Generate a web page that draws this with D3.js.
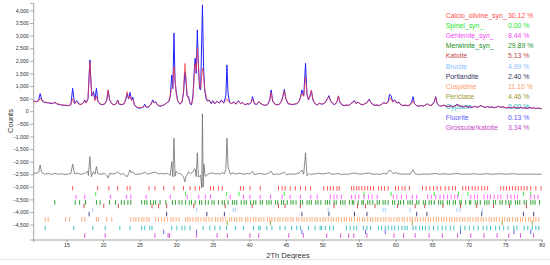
<!DOCTYPE html>
<html><head><meta charset="utf-8">
<script src="https://cdn.jsdelivr.net/npm/d3@7"></script>
<style>html,body{margin:0;padding:0;background:#fff;}svg{display:block;}</style>
</head><body>
<svg id="chart" width="550" height="265"></svg>
<script>
// ---------- DATA ----------
const twoTheta = [10.45,10.7,10.9,11.2,11.4,11.6,11.9,12.3,12.7,13.1,13.4,13.7,14.1,14.5,14.9,15.3,15.6,15.85,16.1,16.4,16.7,17.0,17.3,17.5,17.7,17.95,18.2,18.45,18.7,18.9,19.1,19.3,19.6,19.9,20.2,20.5,20.7,20.9,21.2,21.5,21.8,22.0,22.2,22.6,22.9,23.1,23.3,23.5,23.7,23.9,24.07,24.3,24.6,24.9,25.2,25.5,25.7,25.9,26.2,26.5,26.8,27.0,27.2,27.5,27.8,28.1,28.4,28.7,29.0,29.2,29.4,29.55,29.7,29.85,30.0,30.2,30.5,30.8,31.0,31.2,31.35,31.5,31.7,31.9,32.1,32.3,32.5,32.6,32.75,32.9,33.05,33.2,33.35,33.6,33.75,33.9,34.1,34.3,34.5,34.8,35.0,35.3,35.6,35.9,36.2,36.5,36.8,36.95,37.1,37.3,37.6,37.9,38.2,38.5,38.8,39.1,39.4,39.7,40.0,40.25,40.45,40.7,41.0,41.3,41.6,41.9,42.2,42.5,42.8,43.0,43.2,43.5,43.8,44.1,44.4,44.6,44.8,45.0,45.3,45.6,45.9,46.2,46.5,46.8,47.0,47.2,47.45,47.7,47.9,48.1,48.3,48.5,48.7,49.0,49.3,49.6,49.9,50.2,50.5,50.7,50.9,51.1,51.4,51.7,52.0,52.2,52.4,52.7,53.0,53.3,53.6,53.9,54.2,54.4,54.6,54.9,55.2,55.5,55.8,56.1,56.4,56.6,56.9,57.2,57.5,57.8,58.1,58.4,58.7,59.0,59.2,59.4,59.6,59.9,60.2,60.45,60.7,61.0,61.3,61.6,61.9,62.2,62.4,62.6,62.9,63.2,63.5,63.8,64.1,64.4,64.7,65.0,65.3,65.5,65.7,66.0,66.3,66.6,66.9,67.2,67.5,67.8,68.1,68.4,68.7,69.0,69.3,69.6,69.9,70.2,70.5,70.8,71.1,71.4,71.7,72.0,72.3,72.6,72.9,73.2,73.5,73.8,74.1,74.4,74.7,75.0,75.3,75.6,75.9,76.2,76.5,76.8,77.1,77.4,77.7,78.0,78.3,78.6,78.9,79.2,79.5,79.8,80.0];
const observed = [400,390,380,450,700,480,360,340,320,300,360,290,260,240,230,220,260,910,300,420,290,270,330,450,330,500,2040,600,780,450,910,400,280,260,280,420,830,450,300,250,300,450,280,260,300,450,700,480,750,450,560,250,150,120,130,160,280,160,170,250,450,330,380,230,200,220,260,330,380,600,1440,900,3100,1200,800,420,280,350,700,1570,1200,600,580,300,250,600,1700,2100,1500,3230,1770,900,845,4220,1770,845,500,400,450,300,420,300,400,320,450,320,600,1840,700,350,300,380,280,420,300,350,250,300,280,350,580,300,260,380,300,250,230,260,450,845,400,280,250,270,400,600,865,500,300,280,260,280,300,400,550,845,600,1900,650,450,600,820,450,300,250,320,280,300,400,500,620,420,300,260,380,610,350,250,220,240,230,300,380,420,300,370,280,250,300,340,480,380,260,230,250,220,280,350,300,400,670,620,380,450,320,370,260,220,240,220,230,350,580,300,220,200,230,200,250,300,220,250,380,580,300,220,200,250,200,180,220,180,200,280,230,190,170,210,160,180,150,200,160,180,230,170,150,190,150,170,140,160,200,150,180,140,130,160,130,170,130,120,160,120,140,110,150,120,140,100,130,100,110];
const calculated = [390,385,380,400,520,420,370,350,335,320,330,300,270,250,240,230,250,500,300,380,280,270,320,430,330,520,1960,640,700,420,600,380,290,270,290,420,860,470,300,260,290,430,290,270,310,500,780,500,600,420,480,270,180,150,150,170,220,170,180,250,400,350,340,240,210,230,270,330,390,650,920,1000,1770,1300,700,420,300,360,800,1900,1300,650,500,320,270,500,1500,1900,1600,2500,1900,1000,900,1720,1400,900,600,420,430,320,380,310,390,330,400,330,420,490,400,340,310,350,290,400,300,330,260,300,290,340,480,320,280,370,300,260,240,270,420,750,420,290,260,280,380,560,800,520,320,290,270,290,300,380,520,700,600,1370,700,470,580,840,480,310,260,310,290,300,380,520,580,440,310,270,360,600,370,260,230,250,240,290,350,400,310,350,290,260,290,330,450,380,270,240,250,230,270,330,290,350,520,500,370,400,330,350,270,230,250,230,240,300,420,300,230,210,220,210,240,290,230,250,360,560,320,230,210,240,210,190,210,190,200,260,230,200,180,200,170,180,160,190,170,180,220,180,160,180,160,170,150,160,190,160,170,150,140,150,140,160,140,130,150,130,140,120,140,130,130,110,120,110,110];
const diffTheta = [10.45,10.8,11.2,11.4,11.6,12.0,12.5,13.0,13.4,13.8,14.3,14.8,15.3,15.6,15.85,16.1,16.5,17.0,17.5,17.9,18.0,18.2,18.4,18.7,18.9,19.1,19.3,19.7,20.2,20.5,20.7,20.9,21.4,21.8,22.0,22.3,22.8,23.1,23.3,23.5,23.7,23.9,24.07,24.4,24.9,25.3,25.7,26.1,26.5,26.8,27.2,27.6,28.0,28.4,28.8,29.0,29.2,29.4,29.55,29.7,29.85,30.0,30.3,30.6,31.0,31.2,31.35,31.5,31.7,32.0,32.3,32.5,32.6,32.75,32.9,33.05,33.2,33.35,33.5,33.6,33.7,33.8,33.95,34.1,34.4,34.7,35.0,35.3,35.7,36.0,36.3,36.6,36.8,36.95,37.1,37.4,37.8,38.2,38.5,38.9,39.3,39.7,40.1,40.45,40.7,41.0,41.4,41.8,42.2,42.6,43.0,43.3,43.7,44.1,44.5,44.8,45.1,45.5,46.0,46.4,46.8,47.2,47.45,47.7,47.9,48.2,48.5,48.8,49.2,49.6,50.0,50.5,50.9,51.3,51.7,52.2,52.6,53.0,53.5,54.0,54.4,54.8,55.3,55.8,56.4,56.9,57.4,57.9,58.4,58.8,59.2,59.4,59.7,60.0,60.5,61.0,61.5,62.0,62.4,62.7,63.2,63.8,64.3,64.8,65.5,66.0,66.6,67.2,67.8,68.4,69.0,69.6,70.2,70.8,71.4,72.0,72.6,73.2,73.8,74.4,75.0,75.6,76.2,76.8,77.4,78.0,78.6,79.2,80.0];
const difference = [-2450,-2470,-2420,-2130,-2420,-2500,-2470,-2510,-2460,-2500,-2480,-2510,-2490,-2470,-2100,-2480,-2460,-2500,-2470,-2380,-2550,-1800,-2600,-2400,-2500,-2200,-2480,-2500,-2470,-2550,-2650,-2470,-2490,-2460,-2400,-2500,-2480,-2560,-2600,-2480,-2330,-2450,-2400,-2510,-2490,-2480,-2420,-2490,-2470,-2430,-2420,-2490,-2470,-2490,-2460,-2500,-2550,-2000,-2600,-1070,-2580,-2380,-2480,-2470,-2600,-2800,-2580,-2530,-2400,-2480,-2400,-2280,-2300,-2600,-1650,-2610,-2580,-2540,-3050,-100,-3000,-2100,-2560,-2580,-2480,-2470,-2440,-2490,-2470,-2500,-2430,-2480,-2300,-1070,-2200,-2490,-2450,-2500,-2460,-2480,-2500,-2470,-2490,-2380,-2510,-2490,-2470,-2490,-2500,-2470,-2380,-2520,-2490,-2500,-2460,-2420,-2520,-2490,-2500,-2480,-2460,-2330,-2500,-1650,-2560,-2470,-2520,-2490,-2480,-2460,-2490,-2470,-2440,-2500,-2490,-2470,-2510,-2490,-2500,-2470,-2450,-2480,-2500,-2470,-2450,-2500,-2490,-2500,-2470,-2490,-2330,-2380,-2480,-2440,-2480,-2500,-2490,-2500,-2320,-2490,-2510,-2490,-2500,-2490,-2470,-2500,-2480,-2500,-2490,-2470,-2500,-2490,-2500,-2480,-2500,-2490,-2480,-2500,-2490,-2480,-2500,-2490,-2480,-2500,-2490,-2500,-2490,-2500,-2500];

const phaseNames = ["Calcio_olivine_syn_","Spinel_syn_","Gehlenite_syn_","Merwinite_syn_","Katoite","Brucite","Portlandite","Cuspidine","Periclase","Gypsum","Fluorite","Grossular/katoite"];
const phasePercents = ["30.12 %","0.00 %","8.44 %","29.89 %","5.13 %","4.99 %","2.40 %","11.10 %","4.46 %","0.00 %","0.13 %","3.34 %"];

const ticksCalcio = [15.85,19.27,20.8,22.0,23.3,23.7,26.3,27.1,28.3,29.7,31.0,31.9,32.6,33.2,34.7,35.1,35.8,36.3,38.8,39.2,40.1,41.5,44.0,44.5,44.9,45.6,46.3,47.0,47.7,48.4,50.2,50.7,51.1,51.5,52.0,52.3,54.0,54.3,54.7,55.0,55.4,55.8,56.2,56.6,57.0,57.7,58.1,58.5,59.0,60.0,60.4,60.9,61.3,61.9,63.7,64.2,64.7,65.2,65.7,66.2,66.8,67.3,67.8,68.2,69.2,69.6,70.0,70.5,70.9,71.3,71.8,72.2,72.6,74.4,74.8,75.2,75.6,76.0,76.4,76.8,77.2,77.6,78.0,78.5,79.2,79.9];
const ticksSpinel = [19.0,31.3,36.9,38.6,44.8,55.7,59.4,65.3,68.6,69.9,77.5,78.5];
const ticksGehlenite = [16.3,17.5,21.0,23.2,23.8,25.9,29.2,31.5,33.1,34.0,34.7,37.4,39.2,40.1,41.5,42.9,44.5,45.6,47.0,48.4,49.3,51.1,51.6,52.0,52.6,54.0,54.5,55.0,55.7,56.3,56.8,57.5,59.7,60.2,60.8,61.5,62.3,62.9,64.4,64.9,65.5,66.1,66.6,67.1,67.6,68.1,68.5,70.3,70.8,71.2,72.1,72.6,73.0,73.5,74.0,74.4,75.3,75.8,76.3,76.7,78.5,79.0,79.5];
const ticksMerwinite = [13.4,16.2,16.8,17.6,19.1,19.6,20.9,21.7,22.5,22.9,23.4,23.8,25.3,25.7,26.0,26.5,26.9,27.2,27.8,28.6,29.5,29.9,30.4,30.8,31.3,31.8,32.1,32.6,33.2,33.5,34.0,34.4,34.9,35.2,35.8,36.3,36.6,37.1,37.7,38.0,38.3,38.9,39.3,39.6,40.2,40.6,40.9,41.5,41.8,42.4,42.7,43.0,43.6,43.9,44.4,44.7,45.2,45.7,46.0,46.4,47.0,47.3,47.9,48.2,48.5,49.1,49.4,49.8,50.4,50.7,51.0,51.6,51.9,52.5,52.8,53.1,53.7,54.1,54.3,54.9,55.4,55.6,56.2,56.5,56.9,57.5,57.8,58.3,58.6,59.0,59.6,59.9,60.4,60.7,61.1,61.7,62.0,62.3,62.9,63.2,63.8,64.1,64.6,64.9,65.3,65.9,66.2,66.5,67.1,67.4,67.9,68.2,68.8,69.0,69.6,70.1,70.3,70.9,71.2,71.6,72.2,72.5,72.8,73.4,73.7,74.3,74.6,75.1,75.5,75.8,76.4,76.7,77.0,77.6,77.9,78.5,78.8,79.1,79.7];
const ticksKatoite = [17.4,20.1,22.1,26.7,27.6,28.7,32.4,36.7,40.4,44.0,44.9,47.0,51.6,54.8,55.9,57.2,60.3,62.7,64.0,66.5,68.9,71.1,73.4,75.6,77.9];
const ticksBrucite = [18.6,32.8,37.8,38.1,50.8,58.3,58.6,62.0,68.4,68.8,71.9];
const ticksPortlandite = [18.1,28.7,34.2,36.6,47.2,50.9,54.4,56.1,62.9,64.3,71.8,77.5,78.9];
const ticksCuspidine = [12.1,12.5,14.9,15.4,17.1,17.5,19.1,19.4,20.5,21.2,23.8,24.2,24.5,24.9,25.3,25.6,26.0,26.3,27.2,27.6,28.0,28.4,28.8,29.3,29.6,30.0,30.4,31.3,31.6,31.9,32.3,32.7,33.0,33.4,33.8,34.1,34.5,34.9,35.4,35.7,36.1,36.4,36.8,37.3,37.6,38.0,38.3,38.7,39.0,39.5,39.8,40.2,40.6,40.9,41.3,41.6,42.0,42.5,42.8,43.1,43.5,43.9,44.2,44.6,45.0,45.3,45.7,46.0,46.5,46.8,47.2,47.5,47.9,48.3,48.6,49.0,49.3,49.7,50.1,50.4,50.8,51.2,51.5,51.9,52.2,52.6,53.0,53.3,53.7,54.0,54.4,54.8,55.1,55.5,55.8,56.2,56.6,56.9,57.3,57.6,58.0,58.4,58.7,59.1,59.4,59.8,60.2,60.5,60.9,61.2,61.6,62.0,62.3,62.7,63.0,63.4,63.8,64.1,64.5,64.8,65.2,65.6,65.9,66.3,66.6,67.0,67.4,67.7,68.1,68.4,68.8,69.2,69.5,69.9,70.2,70.6,71.0,71.3,71.7,72.0,72.4,72.8,73.1,73.5,73.8,74.2,74.6,74.9,75.3,75.6,76.0,76.4,76.7,77.1,77.4,77.8,78.2,78.5,78.9,79.2,79.6];
const ticksPericlase = [37.0,42.9,62.3,74.6,78.7];
const ticksGypsum = [12.1,16.0,18.6,20.3,22.3,23.7,25.3,25.7,26.4,26.7,29.4,30.1,30.8,31.2,31.9,33.7,34.6,35.3,36.0,36.9,38.1,39.2,40.6,41.3,41.5,42.4,43.1,44.2,44.9,45.8,46.5,47.0,48.1,49.0,49.7,49.9,50.4,51.0,51.5,53.3,53.8,54.3,54.7,55.6,56.1,56.6,57.7,58.1,58.6,59.0,59.5,59.9,60.4,60.9,61.3,61.6,62.4,62.8,63.3,63.7,64.1,64.6,65.2,65.8,66.4,66.9,67.5,68.0,68.9,69.5,70.1,70.7,71.3,72.0,72.5,73.0,73.7,74.2,74.8,75.4,76.2,76.6,77.6,78.1,78.7,79.2,79.6];
const ticksFluorite = [28.3,32.8,47.2,55.9,58.6,68.9,76.2,78.5];
const ticksGrossular = [17.5,20.3,27.1,28.9,29.1,32.8,35.6,37.0,40.1,41.3,45.4,47.4,50.6,52.5,53.6,54.3,56.1,59.8,61.1,62.7,64.6,66.4,68.5,70.3,72.1,73.9,75.5,77.1,78.9];

const yTickValues = [-4500,-4000,-3500,-3000,-2500,-2000,-1500,-1000,-500,0,500,1000,1500,2000,2500,3000,3500,4000];
const xTickValues = [15,20,25,30,35,40,45,50,55,60,65,70,75,80];

// ---------- STYLE / LAYOUT ----------
const phaseColors = ["#ff4a4a","#1ee81e","#f24af2","#1c8f1c","#c04848","#8cc0ff","#34345e","#ff9a66","#9a9a2e","#2ab4b4","#5a5aff","#c844c8"];
const tickColors  = ["#ff5a5a","#44ee44","#ff66ff","#2ea02e","#c85050","#a8d0ff","#4a4a80","#ffa878","#a8a83a","#48c4c4","#6a6aff","#d858d8"];
const tickRowCenter = [-3060,-3280,-3400,-3620,-3760,-3920,-4080,-4290,-4430,-4630,-4790,-4930];
const tickSets = [ticksCalcio,ticksSpinel,ticksGehlenite,ticksMerwinite,ticksKatoite,ticksBrucite,ticksPortlandite,ticksCuspidine,ticksPericlase,ticksGypsum,ticksFluorite,ticksGrossular];

const svg = d3.select("#chart");
svg.append("rect").attr("width",550).attr("height",265).attr("fill","#fff");

const x = d3.scaleLinear().domain([10.45, 80]).range([33.2, 541.7]);
const y = d3.scaleLinear().domain([-5090, 4300]).range([239.5, 2.9]);

const axisColor = "#8a9090";
const labelFont = "'Liberation Sans', Arial, sans-serif";

// Y axis
const yAxis = d3.axisLeft(y).tickValues(yTickValues).tickSize(3).tickPadding(1.5)
  .tickFormat(d3.format(","));
const gy = svg.append("g").attr("transform", `translate(${x.range()[0]},0)`).call(yAxis);
gy.select(".domain").attr("stroke", axisColor).attr("stroke-width",0.8);
gy.selectAll(".tick line").attr("stroke", axisColor).attr("stroke-width",0.8);
gy.selectAll(".tick text").attr("font-size", 5.2).attr("font-family", labelFont).attr("fill","#333");

// X axis
const xAxis = d3.axisBottom(x).tickValues(xTickValues).tickSize(2.5).tickPadding(1.5).tickFormat(d3.format("d"));
const gx = svg.append("g").attr("transform", `translate(0,${y.range()[0]})`).call(xAxis);
gx.select(".domain").attr("stroke", axisColor).attr("stroke-width",0.8);
gx.selectAll(".tick line").attr("stroke", axisColor).attr("stroke-width",0.8);
gx.selectAll(".tick text").attr("font-size", 5.2).attr("font-family", labelFont).attr("fill","#333");

// Axis titles
svg.append("text").attr("x", 288).attr("y", 257.5).attr("text-anchor","middle")
  .attr("font-size", 7.5).attr("font-family", labelFont).attr("fill","#333").text("2Th Degrees");
svg.append("text").attr("transform","translate(13,121) rotate(-90)").attr("text-anchor","middle")
  .attr("font-size", 7.5).attr("font-family", labelFont).attr("fill","#333").text("Counts");

// Legend (drawn beneath curves)
const lg = svg.append("g");
phaseNames.forEach((n,i)=>{
  const cy = 15 + i*10.2;
  lg.append("text").attr("x",445.7).attr("y",cy+2.6).attr("font-size",6.9).attr("font-family",labelFont)
    .attr("fill",phaseColors[i]).text(n);
  lg.append("text").attr("x",508).attr("y",cy+2.6).attr("font-size",6.9).attr("font-family",labelFont)
    .attr("fill",phaseColors[i]).text(phasePercents[i]);
});

// Reflection tick rows
tickSets.forEach((arr,i)=>{
  const c = tickRowCenter[i];
  svg.append("g").selectAll("line").data(arr).join("line")
    .attr("x1", d=>x(d)).attr("x2", d=>x(d))
    .attr("y1", y(c+90)).attr("y2", y(c-90))
    .attr("stroke", tickColors[i]).attr("stroke-width", 1);
});

// Difference curve
const diffLine = d3.line().x((d,i)=>x(diffTheta[i])).y(d=>y(d));
svg.append("path").datum(difference).attr("d", diffLine).attr("fill","none")
  .attr("stroke","#6e6e6e").attr("stroke-width",0.8);

// Observed & calculated
const obsLine = d3.line().x((d,i)=>x(twoTheta[i])).y(d=>y(d));
svg.append("path").datum(observed).attr("d", obsLine).attr("fill","none")
  .attr("stroke","#2020ff").attr("stroke-width",1);
svg.append("path").datum(calculated).attr("d", obsLine).attr("fill","none")
  .attr("stroke","#ff3a3a").attr("stroke-width",1).attr("stroke-opacity",0.7);

// bottom frame line
svg.append("line").attr("x1",0).attr("x2",550).attr("y1",259.5).attr("y2",259.5)
  .attr("stroke","#e4e4e4").attr("stroke-width",1);
</script>
</body></html>
